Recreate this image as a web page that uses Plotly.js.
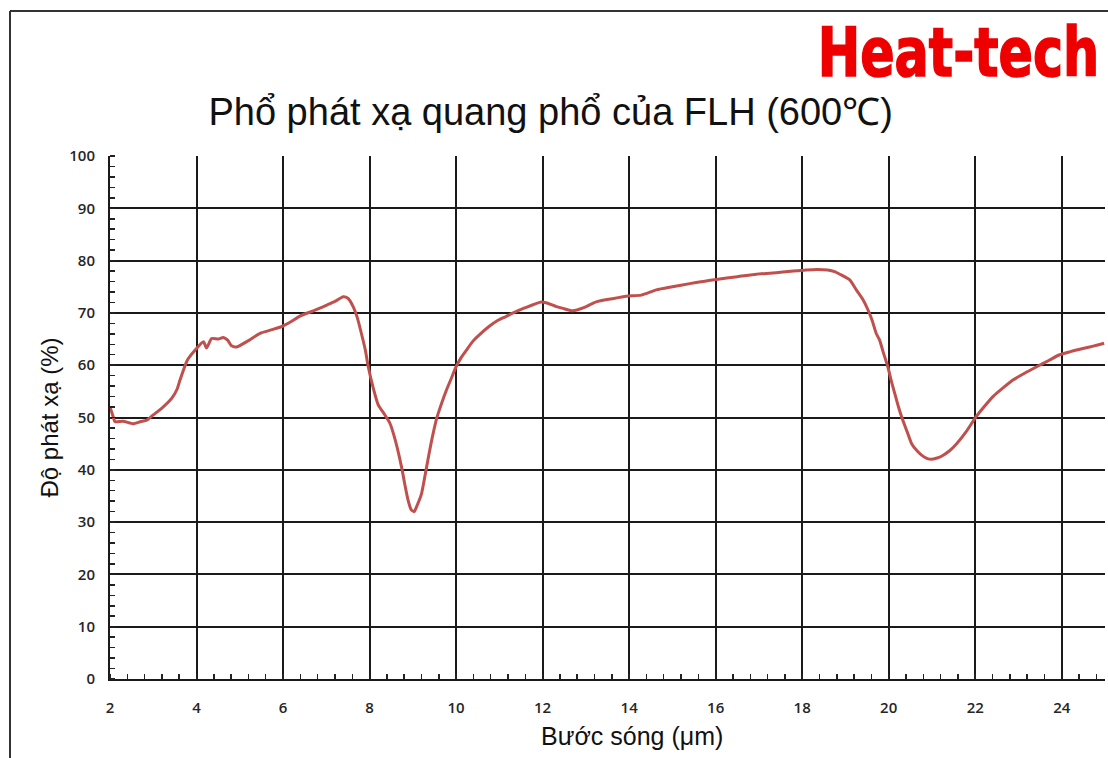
<!DOCTYPE html>
<html>
<head>
<meta charset="utf-8">
<script src="https://cdn.plot.ly/plotly-3.0.1.min.js"></script>
<style>html,body{margin:0;padding:0;background:#fff;}#chart{width:1108px;height:758px;}</style>
</head>
<body>
<div id="chart"></div>
<script>
const chartTitle = "Phổ phát xạ quang phổ của FLH (600℃)";
const brand = "Heat-tech";
const xLabel = "Bước sóng (μm)";
const yLabel = "Độ phát xạ (%)";
const xTickVals = [2,4,6,8,10,12,14,16,18,20,22,24];
const yTickVals = [0,10,20,30,40,50,60,70,80,90,100];

const wavelength = [2.0,2.06,2.12,2.3,2.54,2.7,2.85,3.0,3.2,3.43,3.55,3.62,3.79,4.0,4.16,4.23,4.35,4.5,4.62,4.72,4.81,4.93,5.2,5.47,5.75,5.97,6.2,6.39,6.7,7.01,7.2,7.39,7.5,7.62,7.72,7.81,7.9,7.97,8.08,8.2,8.33,8.47,8.6,8.74,8.82,8.89,8.96,9.03,9.1,9.2,9.28,9.36,9.45,9.55,9.66,9.78,9.9,10.0,10.12,10.24,10.39,10.55,10.76,10.95,11.15,11.32,11.6,11.97,12.1,12.32,12.5,12.7,12.95,13.24,13.6,13.93,14.28,14.63,15.0,15.4,15.7,16.01,16.5,16.94,17.25,17.55,17.8,18.09,18.35,18.59,18.75,18.87,19.1,19.25,19.4,19.52,19.62,19.71,19.79,19.88,19.98,20.06,20.14,20.22,20.3,20.42,20.53,20.65,20.76,20.88,20.99,21.1,21.22,21.4,21.57,21.8,21.99,22.2,22.41,22.65,22.88,23.15,23.42,23.7,23.95,24.2,24.49,24.75,24.98];
const emissivity = [52.0,50.5,49.2,49.3,48.8,49.2,49.5,50.5,51.8,53.7,55.4,57.2,61.0,63.2,64.5,63.3,65.1,65.0,65.3,64.8,63.7,63.5,64.7,66.1,66.8,67.4,68.4,69.4,70.4,71.5,72.2,73.1,72.8,71.2,69.0,66.1,63.0,59.7,55.8,52.4,50.8,48.9,45.5,40.5,37.0,34.2,32.4,32.0,33.2,35.4,38.8,42.4,46.2,49.8,52.6,55.3,57.7,59.7,61.5,62.9,64.6,65.9,67.4,68.5,69.3,70.0,71.0,72.1,71.9,71.2,70.8,70.4,71.0,72.1,72.7,73.2,73.4,74.4,75.0,75.6,76.0,76.4,76.9,77.4,77.6,77.8,78.0,78.2,78.3,78.2,77.9,77.4,76.3,74.4,72.6,70.6,68.5,66.1,64.8,62.3,59.7,57.0,54.6,52.2,50.1,47.4,45.0,43.7,42.8,42.2,42.0,42.2,42.6,43.6,45.0,47.4,49.8,52.0,54.0,55.7,57.2,58.5,59.7,60.9,62.0,62.6,63.2,63.7,64.2];

const plotL = 110, plotR = 1105, plotT = 156, plotB = 679;
const pw = plotR - plotL, ph = plotB - plotT;
const px = v => (v - plotL) / pw;
const py = v => (plotB - v) / ph;

const trace = {
  x: wavelength, y: emissivity, type: 'scatter', mode: 'lines',
  line: {color: '#c0504d', width: 3, shape: 'spline', smoothing: 0.6},
  hoverinfo: 'skip', showlegend: false
};

const tickFont = {family: 'Open Sans, Liberation Sans, sans-serif', size: 15, color: '#262626', weight: 600};
const labelFont = {family: 'Liberation Sans, Arial, sans-serif', size: 24, color: '#111'};
const layout = {
  width: 1108, height: 758,
  margin: {l: plotL, r: 1108 - plotR, t: plotT, b: 758 - plotB},
  paper_bgcolor: '#ffffff', plot_bgcolor: '#ffffff',
  title: {text: chartTitle, font: {family: 'Liberation Sans, Arial, sans-serif', size: 38, color: '#111'},
          x: 0.497, xanchor: 'center', xref: 'container', y: 1 - 112/758, yanchor: 'middle', yref: 'container'},
  xaxis: {
    range: [2, 25], tickvals: xTickVals, ticktext: xTickVals.map(String),
    showgrid: true, gridcolor: '#1a1a1a', gridwidth: 2,
    showline: true, linecolor: '#1a1a1a', linewidth: 2, zeroline: false,
    ticks: '', ticklabelstandoff: 14, tickfont: tickFont,
    minor: {dtick: 0.4, tick0: 2, ticks: 'inside', ticklen: 5, tickcolor: '#222', tickwidth: 1.5, showgrid: false}
  },
  yaxis: {
    range: [0, 100], tickvals: yTickVals, ticktext: yTickVals.map(String),
    showgrid: true, gridcolor: '#1a1a1a', gridwidth: 2,
    showline: true, linecolor: '#1a1a1a', linewidth: 2, zeroline: false,
    ticks: '', ticklabelstandoff: 10, tickfont: tickFont,
    minor: {dtick: 2, tick0: 0, ticks: 'inside', ticklen: 5, tickcolor: '#222', tickwidth: 1.5, showgrid: false},
    title: {text: yLabel, font: labelFont, standoff: 4}
  },
  annotations: [{
    text: '<b>' + brand + '</b>', xref: 'paper', yref: 'paper',
    x: px(1101), y: py(52), xanchor: 'right', yanchor: 'middle', showarrow: false,
    font: {family: 'DejaVu Sans Condensed, Liberation Sans Narrow, sans-serif', size: 68, color: '#ee0000'}
  }, {
    text: xLabel, xref: 'paper', yref: 'paper',
    x: px(632), y: py(736), xanchor: 'center', yanchor: 'middle', showarrow: false,
    font: {family: 'Liberation Sans, Arial, sans-serif', size: 25, color: '#111'}
  }],
  shapes: [
    {type: 'line', xref: 'paper', yref: 'paper', x0: px(10), x1: px(10), y0: py(11), y1: py(770), line: {color: '#333', width: 2}},
    {type: 'line', xref: 'paper', yref: 'paper', x0: px(10), x1: px(1120), y0: py(11), y1: py(11), line: {color: '#333', width: 2}}
  ]
};

Plotly.newPlot('chart', [trace], layout, {displayModeBar: false, staticPlot: true}).then(function (gd) {
  // condense the brand mark horizontally, anchored at its right edge
  const t = gd.querySelector('.annotation[data-index="0"] .annotation-text');
  if (t) {
    const bb = t.getBBox();
    const s = 0.83, xr = bb.x + bb.width;
    t.setAttribute('transform', 'translate(' + (xr * (1 - s)) + ',0) scale(' + s + ',1)');
    t.style.stroke = '#ee0000';
    t.style.strokeWidth = '1.5px';
  }
});
</script>
</body>
</html>
